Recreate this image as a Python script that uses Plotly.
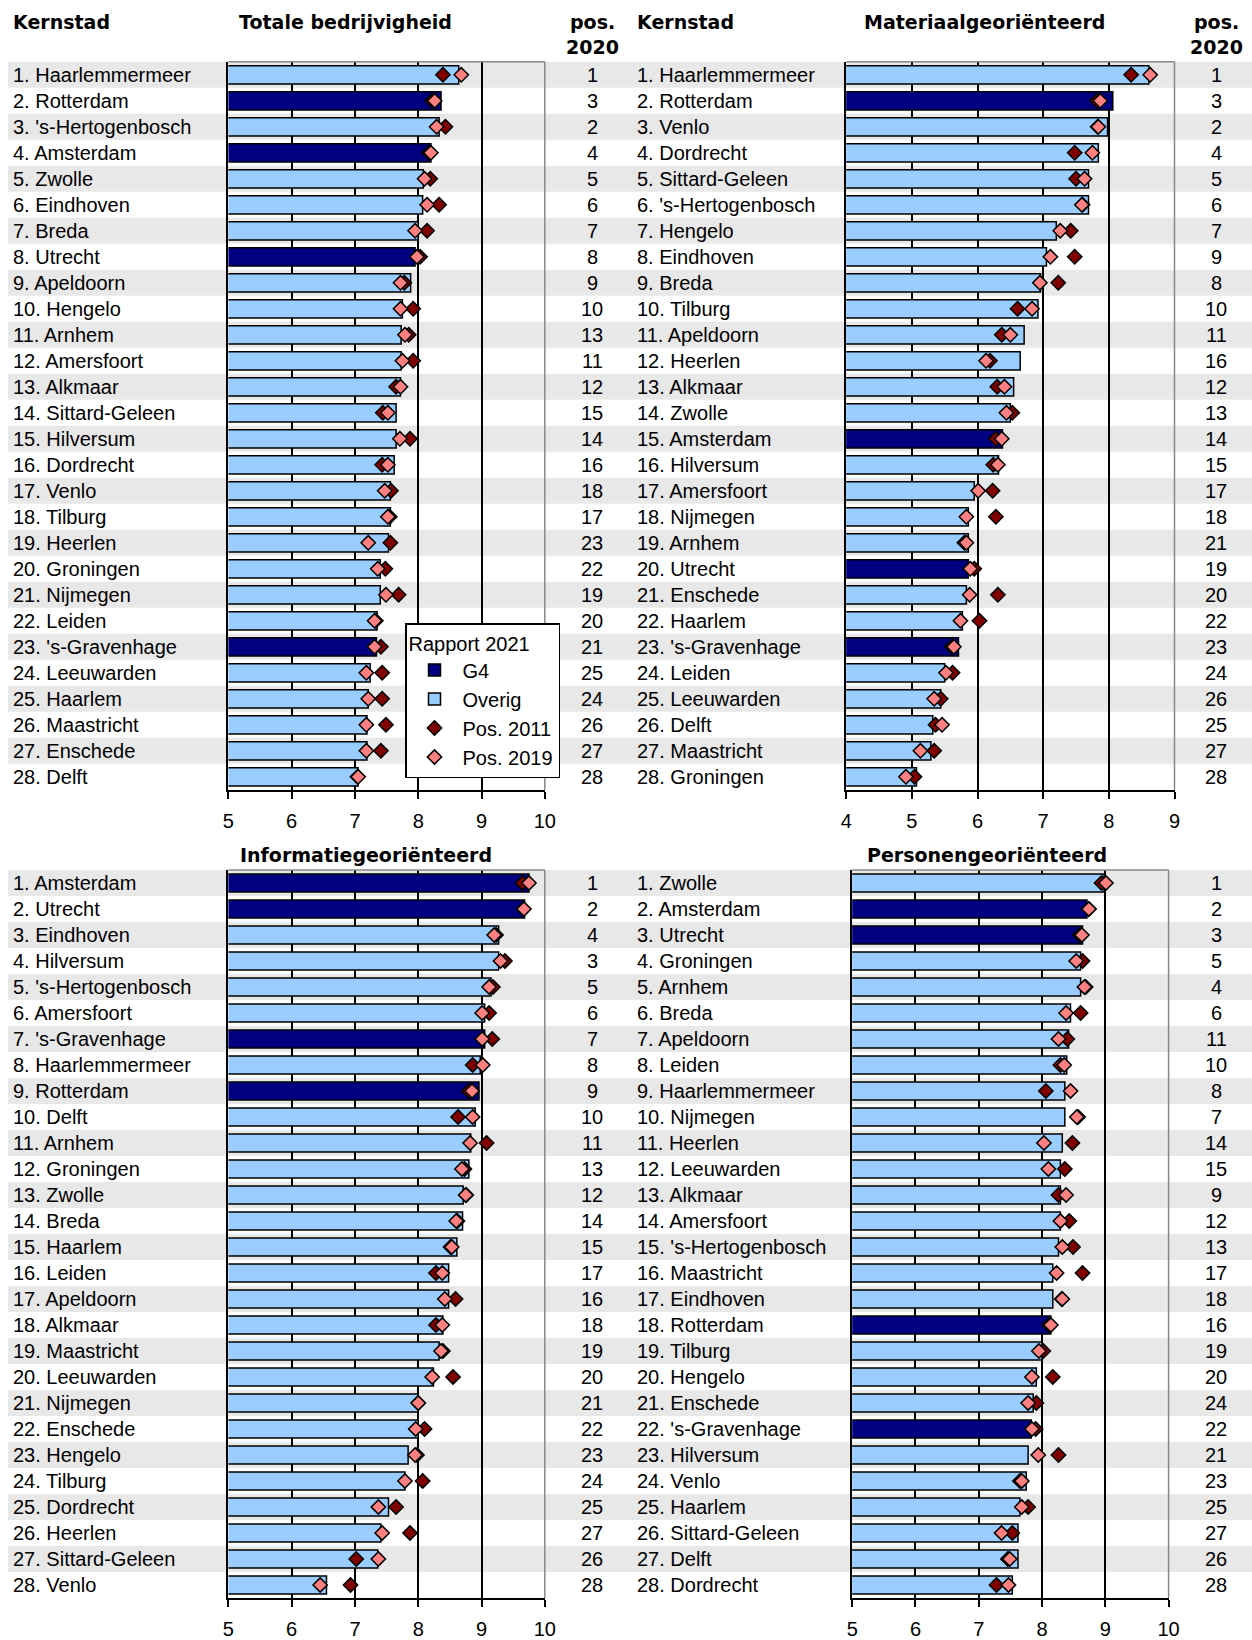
import plotly.graph_objects as go

W, H = 1252, 1640
FONT = "Liberation Sans, Arial, sans-serif"
HFONT = "DejaVu Sans, Liberation Sans, Arial, sans-serif"

# ---------------- data ----------------
g4_cities = ["Amsterdam", "Rotterdam", "'s-Gravenhage", "Utrecht"]

tot_names = ["Haarlemmermeer", "Rotterdam", "'s-Hertogenbosch", "Amsterdam", "Zwolle", "Eindhoven", "Breda",
             "Utrecht", "Apeldoorn", "Hengelo", "Arnhem", "Amersfoort", "Alkmaar", "Sittard-Geleen", "Hilversum",
             "Dordrecht", "Venlo", "Tilburg", "Heerlen", "Groningen", "Nijmegen", "Leiden", "'s-Gravenhage",
             "Leeuwarden", "Haarlem", "Maastricht", "Enschede", "Delft"]
tot_2021 = [8.64, 8.36, 8.33, 8.20, 8.08, 8.07, 8.00, 7.95, 7.88, 7.75, 7.73, 7.73, 7.72, 7.65, 7.65, 7.62, 7.56,
            7.56, 7.53, 7.40, 7.40, 7.35, 7.34, 7.24, 7.21, 7.19, 7.19, 7.05]
tot_2011 = [8.39, 8.22, 8.43, 8.17, 8.19, 8.33, 8.14, 8.03, 7.78, 7.92, 7.85, 7.92, 7.65, 7.44, 7.87, 7.43, 7.57,
            7.55, 7.56, 7.48, 7.69, 7.33, 7.41, 7.43, 7.43, 7.49, 7.41, 7.04]
tot_2019 = [8.68, 8.26, 8.29, 8.20, 8.10, 8.14, 7.95, 7.98, 7.72, 7.72, 7.79, 7.75, 7.72, 7.52, 7.71, 7.52, 7.47,
            7.52, 7.21, 7.36, 7.49, 7.31, 7.31, 7.18, 7.21, 7.18, 7.18, 7.05]
tot_pos = [1, 3, 2, 4, 5, 6, 7, 8, 9, 10, 13, 11, 12, 15, 14, 16, 18, 17, 23, 22, 19, 20, 21, 25, 24, 26, 27, 28]

mat_names = ["Haarlemmermeer", "Rotterdam", "Venlo", "Dordrecht", "Sittard-Geleen", "'s-Hertogenbosch", "Hengelo",
             "Eindhoven", "Breda", "Tilburg", "Apeldoorn", "Heerlen", "Alkmaar", "Zwolle", "Amsterdam", "Hilversum",
             "Amersfoort", "Nijmegen", "Arnhem", "Utrecht", "Enschede", "Haarlem", "'s-Gravenhage", "Leiden",
             "Leeuwarden", "Delft", "Maastricht", "Groningen"]
mat_2021 = [8.61, 8.06, 7.98, 7.84, 7.69, 7.69, 7.20, 7.05, 6.96, 6.92, 6.71, 6.65, 6.55, 6.50, 6.38, 6.32, 5.95,
            5.86, 5.86, 5.86, 5.83, 5.77, 5.71, 5.50, 5.44, 5.32, 5.29, 5.07]
mat_2011 = [8.34, 7.82, 7.83, 7.48, 7.50, 7.60, 7.42, 7.48, 7.23, 6.61, 6.37, 6.19, 6.30, 6.53, 6.28, 6.24, 6.23,
            6.28, 5.80, 5.95, 6.31, 6.03, 5.61, 5.62, 5.44, 5.36, 5.34, 5.04]
mat_2019 = [8.63, 7.87, 7.84, 7.75, 7.63, 7.59, 7.26, 7.11, 6.95, 6.83, 6.50, 6.13, 6.41, 6.44, 6.37, 6.31, 6.01,
            5.83, 5.83, 5.89, 5.88, 5.74, 5.64, 5.52, 5.34, 5.46, 5.13, 4.91]
mat_pos = [1, 3, 2, 4, 5, 6, 7, 9, 8, 10, 11, 16, 12, 13, 14, 15, 17, 18, 21, 19, 20, 22, 23, 24, 26, 25, 27, 28]

inf_names = ["Amsterdam", "Utrecht", "Eindhoven", "Hilversum", "'s-Hertogenbosch", "Amersfoort", "'s-Gravenhage",
             "Haarlemmermeer", "Rotterdam", "Delft", "Arnhem", "Groningen", "Zwolle", "Breda", "Haarlem", "Leiden",
             "Apeldoorn", "Alkmaar", "Maastricht", "Leeuwarden", "Nijmegen", "Enschede", "Hengelo", "Tilburg",
             "Dordrecht", "Heerlen", "Sittard-Geleen", "Venlo"]
inf_2021 = [9.75, 9.68, 9.27, 9.27, 9.15, 9.05, 9.05, 8.98, 8.96, 8.90, 8.83, 8.80, 8.71, 8.70, 8.61, 8.48, 8.48,
            8.39, 8.33, 8.24, 8.00, 8.00, 7.84, 7.79, 7.53, 7.41, 7.36, 6.55]
inf_2011 = [9.65, 9.66, 9.23, 9.37, 9.18, 9.12, 9.17, 8.86, 8.80, 8.63, 9.08, 8.73, 8.76, 8.62, 8.51, 8.28, 8.59,
            8.28, 8.39, 8.55, 8.00, 8.10, 7.98, 8.07, 7.65, 7.87, 7.02, 6.93]
inf_2019 = [9.75, 9.67, 9.20, 9.30, 9.12, 9.01, 9.01, 9.02, 8.85, 8.86, 8.82, 8.69, 8.75, 8.60, 8.53, 8.38, 8.42,
            8.38, 8.36, 8.22, 8.00, 7.96, 7.95, 7.79, 7.37, 7.43, 7.37, 6.45]
inf_pos = [1, 2, 4, 3, 5, 6, 7, 8, 9, 10, 11, 13, 12, 14, 15, 17, 16, 18, 19, 20, 21, 22, 23, 24, 25, 27, 26, 28]

per_names = ["Zwolle", "Amsterdam", "Utrecht", "Groningen", "Arnhem", "Breda", "Apeldoorn", "Leiden",
             "Haarlemmermeer", "Nijmegen", "Heerlen", "Leeuwarden", "Alkmaar", "Amersfoort", "'s-Hertogenbosch",
             "Maastricht", "Eindhoven", "Rotterdam", "Tilburg", "Hengelo", "Enschede", "'s-Gravenhage", "Hilversum",
             "Venlo", "Haarlem", "Sittard-Geleen", "Delft", "Dordrecht"]
per_2021 = [8.98, 8.71, 8.64, 8.61, 8.61, 8.45, 8.42, 8.39, 8.36, 8.36, 8.32, 8.29, 8.29, 8.29, 8.26, 8.17, 8.17,
            8.14, 8.00, 7.91, 7.86, 7.83, 7.78, 7.75, 7.65, 7.62, 7.62, 7.53]
per_2011 = [8.94, 8.74, 8.60, 8.64, 8.69, 8.61, 8.40, 8.29, 8.06, 8.57, 8.48, 8.36, 8.26, 8.43, 8.49, 8.64, 8.31,
            8.11, 8.02, 8.17, 7.91, 7.90, 8.26, 7.65, 7.78, 7.53, 7.46, 7.28]
per_2019 = [9.01, 8.74, 8.63, 8.54, 8.67, 8.38, 8.26, 8.35, 8.45, 8.55, 8.03, 8.10, 8.38, 8.29, 8.32, 8.23, 8.32,
            8.14, 7.95, 7.84, 7.78, 7.84, 7.94, 7.68, 7.68, 7.36, 7.49, 7.47]
per_pos = [1, 2, 3, 5, 4, 6, 11, 10, 8, 7, 14, 15, 9, 12, 13, 17, 18, 16, 19, 20, 24, 22, 21, 23, 25, 27, 26, 28]

panel_titles = ["Totale bedrijvigheid", "Materiaalgeoriënteerd", "Informatiegeoriënteerd", "Personengeoriënteerd"]
x_ranges = [[5, 10], [4, 9], [5, 10], [5, 10]]

# ---------------- styling / layout helpers ----------------
C_G4, C_OV = "#000080", "#99CCFF"
C_2011, C_2019 = "#800000", "#FF8080"
BAND = "#E8E8E8"


def px(x):
    return x / W


def py(y):
    return 1 - y / H


panels = [
    dict(names=tot_names, v21=tot_2021, v11=tot_2011, v19=tot_2019, pos=tot_pos,
         xdom=[228.4, 544.8], ydom=[61.8, 789.8], lab_x=11, pos_x=592, title_x=345, title_y=21.7, top=True),
    dict(names=mat_names, v21=mat_2021, v11=mat_2011, v19=mat_2019, pos=mat_pos,
         xdom=[846.2, 1174.5], ydom=[61.8, 789.8], lab_x=635, pos_x=1216, title_x=984, title_y=21.7, top=True),
    dict(names=inf_names, v21=inf_2021, v11=inf_2011, v19=inf_2019, pos=inf_pos,
         xdom=[228.4, 544.8], ydom=[870, 1598], lab_x=11, pos_x=592, title_x=366, title_y=855, top=False),
    dict(names=per_names, v21=per_2021, v11=per_2011, v19=per_2019, pos=per_pos,
         xdom=[852.2, 1168.6], ydom=[870, 1598], lab_x=635, pos_x=1216, title_x=987, title_y=855, top=False),
]

fig = go.Figure()
annotations = []
shapes = []
layout_axes = {}

for k, p in enumerate(panels):
    n = k + 1
    xa = "x" if n == 1 else f"x{n}"
    ya = "y" if n == 1 else f"y{n}"
    ranks = list(range(1, len(p["names"]) + 1))
    is_g4 = [nm in g4_cities for nm in p["names"]]

    for grp, color, label in [(True, C_G4, "G4"), (False, C_OV, "Overig")]:
        yy = [r for r, g in zip(ranks, is_g4) if g == grp]
        xx = [v for v, g in zip(p["v21"], is_g4) if g == grp]
        fig.add_trace(go.Bar(
            x=xx, y=yy, orientation="h", width=0.7, name=label,
            marker=dict(color=color, line=dict(color="black", width=1.5)),
            xaxis=xa, yaxis=ya, showlegend=(n == 1), legendrank=1 if grp else 2,
        ))
    fig.add_trace(go.Scatter(
        x=p["v11"], y=ranks, mode="markers", name="Pos. 2011",
        marker=dict(symbol="diamond", size=11, color=C_2011, line=dict(color="black", width=1.5)),
        xaxis=xa, yaxis=ya, showlegend=(n == 1), legendrank=3, cliponaxis=False,
    ))
    fig.add_trace(go.Scatter(
        x=p["v19"], y=ranks, mode="markers", name="Pos. 2019",
        marker=dict(symbol="diamond", size=11, color=C_2019, line=dict(color="black", width=1.5)),
        xaxis=xa, yaxis=ya, showlegend=(n == 1), legendrank=4, cliponaxis=False,
    ))

    xkey = "xaxis" if n == 1 else f"xaxis{n}"
    ykey = "yaxis" if n == 1 else f"yaxis{n}"
    layout_axes[xkey] = dict(
        domain=[px(p["xdom"][0]), px(p["xdom"][1])], anchor=ya, range=x_ranges[k],
        tickmode="linear", tick0=x_ranges[k][0], dtick=1,
        ticks="outside", ticklen=7, tickwidth=1.5, tickcolor="black",
        showgrid=True, gridcolor="black", gridwidth=1.5, zeroline=False,
        showline=True, linecolor="black", linewidth=1.5, automargin=False,
        tickfont=dict(family=FONT, size=20, color="black"), ticklabelstandoff=5, fixedrange=True,
    )
    layout_axes[ykey] = dict(
        domain=[py(p["ydom"][1]), py(p["ydom"][0])], anchor=xa, range=[28.5, 0.5],
        showticklabels=False, ticks="", showgrid=False, zeroline=False, automargin=False,
        showline=True, linecolor="black", linewidth=1.5, fixedrange=True,
    )

    # top and right grey frame lines
    shapes.append(dict(type="line", xref=f"{xa} domain", yref=f"{ya} domain", x0=0, x1=1, y0=1, y1=1,
                       line=dict(color="#888888", width=1.5), layer="above"))
    shapes.append(dict(type="line", xref=f"{xa} domain", yref=f"{ya} domain", x0=1, x1=1, y0=0, y1=1,
                       line=dict(color="#888888", width=1.5), layer="above"))

    # alternating grey row bands (left panels draw the full-width band)
    if n in (1, 3):
        for r in ranks:
            if r % 2 == 1:
                shapes.append(dict(type="rect", xref="paper", yref=ya, x0=px(8), x1=1,
                                   y0=r - 0.5, y1=r + 0.5, fillcolor=BAND, line=dict(width=0), layer="below"))

    # row labels and pos. 2020
    for r, nm, ps in zip(ranks, p["names"], p["pos"]):
        annotations.append(dict(text=f"{r}. {nm}", x=px(p["lab_x"]), xref="paper", y=r, yref=ya,
                                xanchor="left", yanchor="middle", showarrow=False,
                                font=dict(family=FONT, size=20, color="black")))
        annotations.append(dict(text=str(ps), x=px(p["pos_x"]), xref="paper", y=r, yref=ya,
                                xanchor="center", yanchor="middle", showarrow=False,
                                font=dict(family=FONT, size=20, color="black")))

    # panel title
    annotations.append(dict(text=f"<b>{panel_titles[k]}</b>", x=px(p["title_x"]), y=py(p["title_y"]),
                            xref="paper", yref="paper", xanchor="center", yanchor="middle", showarrow=False,
                            font=dict(family=HFONT, size=19, color="black")))
    if p["top"]:
        annotations.append(dict(text="<b>Kernstad</b>", x=px(p["lab_x"]), y=py(21.7), xref="paper", yref="paper",
                                xanchor="left", yanchor="middle", showarrow=False,
                                font=dict(family=HFONT, size=19, color="black")))
        annotations.append(dict(text="<b>pos.</b>", x=px(p["pos_x"]), y=py(21.7), xref="paper", yref="paper",
                                xanchor="center", yanchor="middle", showarrow=False,
                                font=dict(family=HFONT, size=19, color="black")))
        annotations.append(dict(text="<b>2020</b>", x=px(p["pos_x"]), y=py(46.7), xref="paper", yref="paper",
                                xanchor="center", yanchor="middle", showarrow=False,
                                font=dict(family=HFONT, size=19, color="black")))

fig.update_layout(
    width=W, height=H, autosize=False, margin=dict(l=0, r=0, t=0, b=0, pad=0, autoexpand=False),
    paper_bgcolor="white", plot_bgcolor="rgba(0,0,0,0)",
    barmode="overlay", showlegend=True,
    legend=dict(x=px(405), y=py(623), xanchor="left", yanchor="top",
                bgcolor="white", bordercolor="black", borderwidth=1.5,
                title=dict(text="Rapport 2021", font=dict(family=FONT, size=20, color="black")),
                font=dict(family=FONT, size=20, color="black"), itemwidth=46, tracegroupgap=0),
    annotations=annotations, shapes=shapes,
    font=dict(family=FONT, size=20, color="black"),
    **layout_axes,
)

fig.write_html("out.html", config={"displayModeBar": False, "responsive": False},
               post_script="document.body.style.margin='0';document.body.style.overflow='hidden';")
